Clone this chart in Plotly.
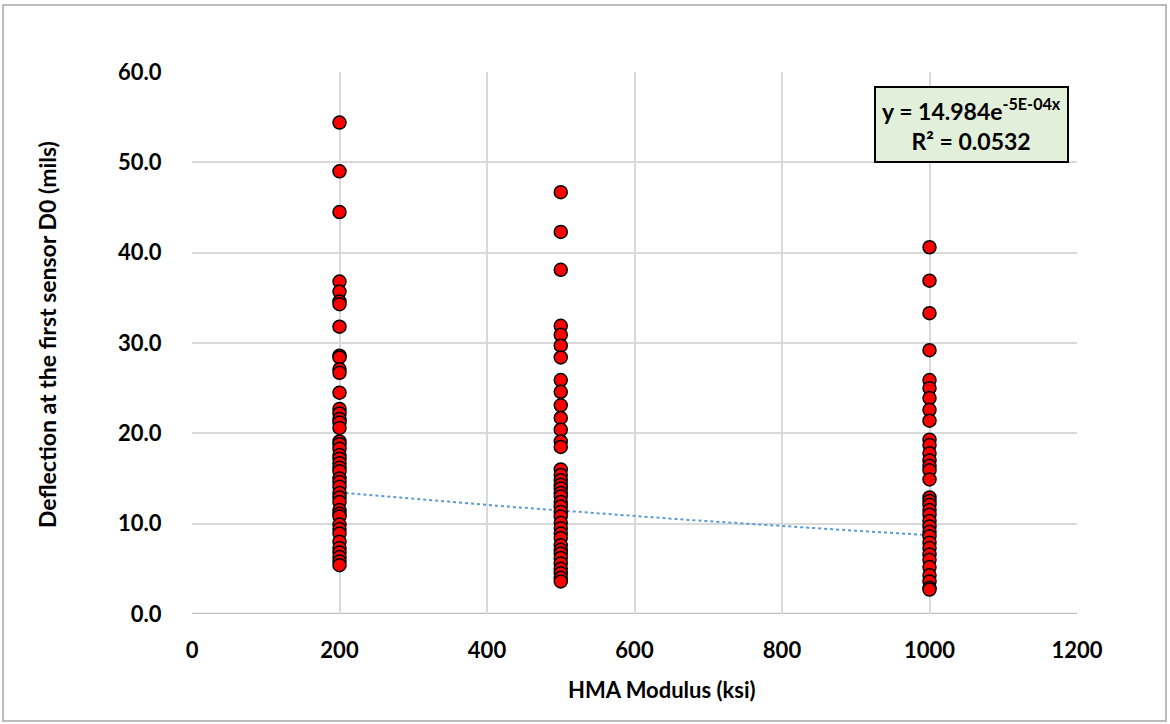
import plotly.graph_objects as go
import numpy as np

modulus_levels = [200, 500, 1000]

d0_at_200 = [54.4, 49.0, 44.5, 36.8, 35.7, 34.6, 34.3, 31.8, 28.6, 28.4, 27.1, 26.7,
             24.5, 22.7, 22.2, 21.6, 21.2, 20.6, 19.1, 18.8, 18.3, 17.6, 17.2, 16.7,
             16.2, 15.8, 15.0, 14.6, 14.1, 13.4, 12.9, 12.4, 11.5, 11.1, 10.8, 9.9,
             9.4, 8.9, 8.0, 7.3, 6.8, 6.3, 5.8, 5.4]
d0_at_500 = [46.7, 42.3, 38.1, 31.9, 30.9, 29.7, 28.4, 25.9, 24.6, 23.1, 21.7, 20.4,
             19.1, 18.5, 16.0, 15.4, 14.8, 14.3, 13.9, 13.4, 13.0, 12.4, 11.9, 11.3,
             10.8, 10.1, 9.5, 8.9, 8.4, 7.6, 7.1, 6.7, 6.2, 5.6, 5.0, 4.5, 4.0, 3.6]
d0_at_1000 = [40.6, 36.9, 33.3, 29.2, 25.9, 25.0, 23.9, 22.6, 21.4, 19.3, 18.7, 17.8,
              17.0, 16.4, 15.9, 14.9, 12.9, 12.5, 12.1, 11.5, 11.0, 10.3, 9.7, 9.1,
              8.6, 7.9, 7.3, 6.6, 6.0, 5.2, 4.3, 3.6, 2.9, 2.7]

x_ticks = [0, 200, 400, 600, 800, 1000, 1200]
y_ticks = [0, 10, 20, 30, 40, 50, 60]

trend_a = 14.984
trend_b = -0.00054
trend_x = [200, 1000]

xs = ([modulus_levels[0]] * len(d0_at_200) + [modulus_levels[1]] * len(d0_at_500)
      + [modulus_levels[2]] * len(d0_at_1000))
ys = d0_at_200 + d0_at_500 + d0_at_1000

tx = np.linspace(trend_x[0], trend_x[1], 50)
ty = trend_a * np.exp(trend_b * tx)

FONT = "Lato"

fig = go.Figure()
fig.add_trace(go.Scatter(
    x=tx, y=ty, mode="lines",
    line=dict(color="#5B9BD5", width=2, dash="dot"),
    hoverinfo="skip", showlegend=False))
fig.add_trace(go.Scatter(
    x=xs, y=ys, mode="markers",
    marker=dict(color="#FF0000", size=13, line=dict(color="black", width=1.5)),
    showlegend=False))

tickfont = dict(family=FONT, size=22, color="black", weight="bold")

fig.update_xaxes(range=[0, 1200], tickvals=x_ticks,
                 showgrid=True, gridcolor="#D9D9D9", gridwidth=2,
                 zeroline=False, showline=False,
                 ticks="outside", ticklen=0, ticklabelstandoff=17,
                 tickfont=tickfont)
fig.update_yaxes(range=[0, 60], tickvals=y_ticks, tickformat=".1f",
                 showgrid=True, gridcolor="#D9D9D9", gridwidth=2,
                 zeroline=False, showline=False,
                 ticks="outside", ticklen=0, ticklabelstandoff=25,
                 tickfont=tickfont)

fig.add_shape(type="line", xref="x", yref="y", x0=0, x1=1200, y0=0, y1=0,
              line=dict(color="#BFBFBF", width=2.5), layer="below")

# axis titles
fig.add_annotation(xref="paper", yref="paper", x=(662 - 192) / 885, y=(614 - 690) / 542,
                   xanchor="center", yanchor="middle", showarrow=False,
                   text="HMA Modulus (ksi)",
                   font=dict(family=FONT, size=22, color="black", weight="bold"))
fig.add_annotation(xref="paper", yref="paper", x=(47 - 192) / 885, y=(614 - 335) / 542,
                   xanchor="center", yanchor="middle", showarrow=False, textangle=-90,
                   text="Deflection at the first sensor D0 (mils)",
                   font=dict(family=FONT, size=23, color="black", weight="bold"))

fig.add_annotation(
    xref="paper", yref="paper", x=(971.5 - 192) / 885, y=(614 - 86) / 542,
    xanchor="center", yanchor="top",
    text="y = 14.984e<sup>-5E-04x</sup><br>R² = 0.0532",
    showarrow=False, align="center",
    font=dict(family=FONT, size=23, color="black", weight="bold"),
    bgcolor="#E2EFDA", bordercolor="black", borderwidth=2, borderpad=6,
)

fig.add_shape(type="rect", xref="paper", yref="paper",
              x0=(3 - 192) / 885, x1=(1166 - 192) / 885,
              y0=(614 - 721) / 542, y1=(614 - 5) / 542,
              line=dict(color="#A6A6A6", width=1.5))

fig.update_layout(
    width=1170, height=724,
    margin=dict(l=192, r=93, t=72, b=110),
    paper_bgcolor="white", plot_bgcolor="white",
    font=dict(family=FONT, color="black"),
)

fig.write_html("out.html")
